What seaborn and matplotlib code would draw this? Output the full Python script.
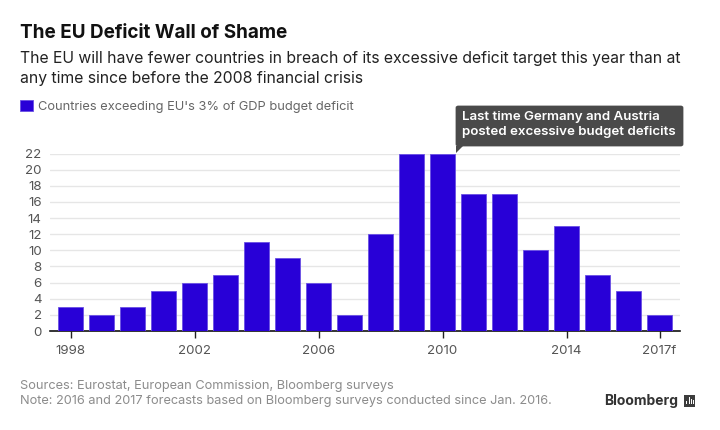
"""Recreate the EU deficit bar chart"""

import matplotlib.pyplot as plt
import pandas as pd
import seaborn as sns
from matplotlib.patches import FancyBboxPatch, Polygon, Rectangle

years = ["1998", "1999", "2000", "2001", "2002", "2003", "2004", "2005", "2006", "2007",
         "2008", "2009", "2010", "2011", "2012", "2013", "2014", "2015", "2016", "2017f"]
countries = [3, 2, 3, 5, 6, 7, 11, 9, 6, 2, 12, 22, 22, 17, 17, 10, 13, 7, 5, 2]
shown_years = ["1998", "2002", "2006", "2010", "2014", "2017f"]
y_ticks = list(range(0, 23, 2))
series_name = "Countries exceeding EU's 3% of GDP budget deficit"

W, H = 720, 430
BLUE = "#2800d7"
GREY = "#8c8c8c"
DARK = "#4a4a4a"


def fx(x):
    return x / W


def fy(y):
    return 1 - y / H


sns.set_theme(style="white")
plt.rcParams["font.family"] = ["Inter", "DejaVu Sans"]

fig = plt.figure(figsize=(7.2, 4.3), dpi=100)
ax = fig.add_axes([fx(50), fy(331), fx(630), (331 - 153.5) / H])

df = pd.DataFrame({"year": years, "countries": countries})
sns.barplot(data=df, x="year", y="countries", color=BLUE, width=0.8, saturation=1,
            edgecolor="#6a50e4", linewidth=0.6, label=series_name, ax=ax, zorder=3)

ax.set_xlim(-0.668, 19.66)
ax.set_ylim(0, 22)
ax.set_xlabel("")
ax.set_ylabel("")
ax.set_yticks(y_ticks)
ax.set_xticks([years.index(y) for y in shown_years])
ax.set_xticklabels(shown_years)
ax.grid(axis="y", color="#e6e6e6", linewidth=1, zorder=0)
ax.set_axisbelow(True)
ax.tick_params(axis="y", length=0, pad=6, labelsize=9.6, labelcolor="#555555")
ax.tick_params(axis="x", length=5, width=1, color="#222222", bottom=True, pad=5,
               labelsize=9.6, labelcolor="#555555")
sns.despine(ax=ax, left=True, right=True, top=True)
ax.spines["bottom"].set_color("#111111")
ax.spines["bottom"].set_linewidth(1.2)

leg = ax.legend(loc="upper left", bbox_to_anchor=(fx(20), fy(100)), bbox_transform=fig.transFigure,
                frameon=False, fontsize=9.25, handlelength=1, handleheight=1, handletextpad=0.4,
                borderpad=0, borderaxespad=0, labelcolor="#666666")

fig.text(fx(20), fy(33), "The EU Deficit Wall of Shame", fontsize=13.6, fontweight="bold",
         color="#111111", va="center")
fig.text(fx(20), fy(58), "The EU will have fewer countries in breach of its excessive deficit target this year than at",
         fontsize=11.35, color="#222222", va="center")
fig.text(fx(20), fy(79), "any time since before the 2008 financial crisis",
         fontsize=11.35, color="#222222", va="center")

# callout over the 2010 bar
fig.add_artist(FancyBboxPatch((fx(457), fy(145)), fx(225), (145 - 107) / H,
                              boxstyle="round,pad=0,rounding_size=0.002", transform=fig.transFigure,
                              facecolor=DARK, edgecolor=DARK, linewidth=2))
fig.add_artist(Polygon([(fx(456), fy(146)), (fx(463), fy(146)), (fx(456), fy(153))],
                       transform=fig.transFigure, facecolor=DARK, edgecolor="none"))
fig.text(fx(462), fy(117), "Last time Germany and Austria", fontsize=9.6, fontweight="semibold",
         color="white", va="center")
fig.text(fx(462), fy(132), "posted excessive budget deficits", fontsize=9.6, fontweight="semibold",
         color="white", va="center")

fig.text(fx(20), fy(385.5), "Sources: Eurostat, European Commission, Bloomberg surveys",
         fontsize=9.2, color=GREY, va="center")
fig.text(fx(20), fy(401), "Note: 2016 and 2017 forecasts based on Bloomberg surveys conducted since Jan. 2016.",
         fontsize=9.2, color=GREY, va="center")

# logo
fig.text(fx(604), fy(401), "Bloomberg", fontsize=10, fontweight="bold", color="#333333", va="center")
fig.add_artist(Rectangle((fx(684), fy(407)), fx(11), 12 / H, transform=fig.transFigure,
                         facecolor="#3d3d3d", edgecolor="none"))
for x, h in zip([686, 688.5, 691, 693], [3, 7, 5, 4]):
    fig.add_artist(Rectangle((fx(x), fy(404)), fx(1), h / H, transform=fig.transFigure,
                             facecolor="white", edgecolor="none"))

fig.savefig("out.png", dpi=100)
